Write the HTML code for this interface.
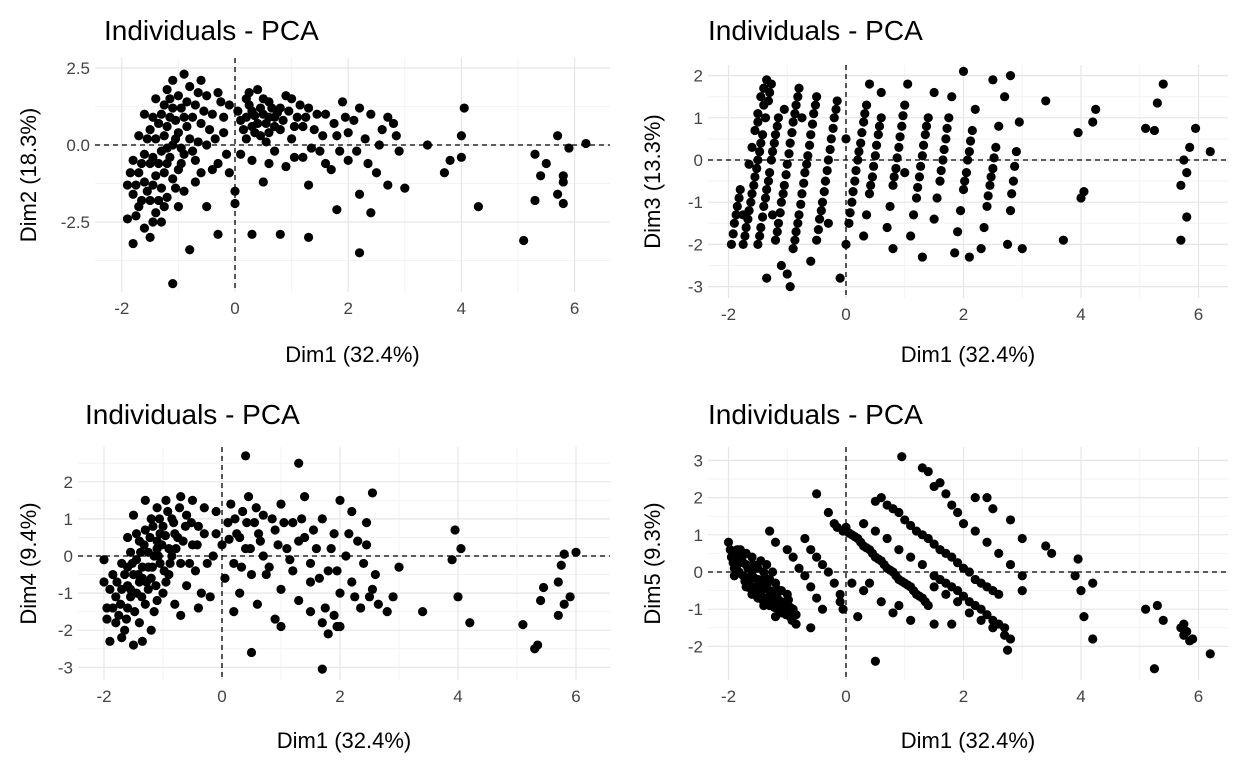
<!DOCTYPE html>
<html><head><meta charset="utf-8">
<style>
html,body{margin:0;padding:0;background:#fff;}
svg{display:block;font-family:"Liberation Sans",Arial,sans-serif;}
</style></head>
<body>
<svg id="chart" width="1248" height="768" viewBox="0 0 1248 768" xmlns="http://www.w3.org/2000/svg"></svg>
<script>
const dim1Ticks = [-2, 0, 2, 4, 6];
const p1YTicks = [2.5, 0, -2.5];
const p1YLabels = ["2.5", "0.0", "-2.5"];
const p2YTicks = [2, 1, 0, -1, -2, -3];
const p3YTicks = [2, 1, 0, -1, -2, -3];
const p4YTicks = [3, 2, 1, 0, -1, -2];

const pts12 = [[-1.9,-1.3],[-1.9,-2.4],[-1.8,-3.2],[-1.8,-1.6],[-1.7,-0.9],[-1.7,-2.0],[-1.6,-0.3],[-1.6,-1.2],[-1.6,-2.7],[-1.5,0.5],[-1.5,-0.6],[-1.5,-1.8],[-1.5,-3.0],[-1.4,1.5],[-1.4,0.2],[-1.4,-1.0],[-1.4,-2.2],[-1.3,1.0],[-1.3,-0.2],[-1.3,-1.4],[-1.3,-2.5],[-1.2,1.8],[-1.2,0.6],[-1.2,-0.6],[-1.2,-1.7],[-1.1,2.1],[-1.1,1.2],[-1.1,0.0],[-1.1,-1.1],[-1.1,-4.5],[-1.0,1.6],[-1.0,0.4],[-1.0,-0.8],[-1.0,-2.0],[-0.9,2.3],[-0.9,0.9],[-0.9,-0.3],[-0.9,-1.5],[-0.8,1.9],[-0.8,0.2],[-0.8,-3.4],[-0.7,1.3],[-0.7,-0.5],[-0.7,-1.2],[-0.6,2.1],[-0.6,0.7],[-0.6,-0.9],[-0.5,1.6],[-0.5,0.0],[-0.5,-2.0],[-1.7,0.3],[-1.6,1.0],[-1.8,-0.5],[-1.2,-0.1],[-1.35,0.7],[-1.45,-0.4],[-1.25,-0.9],[-1.05,0.8],[-0.95,-0.1],[-1.15,1.5],[-0.4,1.0],[-0.3,-0.6],[-0.3,1.7],[-0.2,0.4],[-0.1,-0.9],[-0.1,1.3],[0.0,-1.9],[0.1,0.8],[0.1,-0.3],[0.2,1.5],[0.2,0.2],[0.3,1.1],[0.3,-0.5],[0.4,0.7],[0.4,1.8],[0.5,1.0],[0.5,-1.2],[0.6,0.4],[0.6,1.4],[0.7,0.9],[0.7,-0.2],[0.8,1.2],[0.8,0.5],[0.9,-0.7],[1.0,1.5],[1.0,0.2],[1.1,0.9],[1.2,-0.4],[1.3,1.2],[1.3,-1.3],[1.4,0.5],[1.5,-0.2],[1.6,1.0],[1.7,-0.8],[1.8,0.3],[1.9,1.4],[2.0,-0.5],[2.1,0.8],[2.2,-1.6],[2.3,0.2],[2.4,1.0],[2.5,-0.9],[2.6,0.5],[2.7,-1.3],[2.8,0.7],[2.9,-0.2],[3.0,-1.4],[0.3,-2.9],[0.8,-2.9],[1.3,-3.0],[2.2,-3.5],[2.4,-2.2],[1.8,-2.1],[-0.3,-2.9],[0.0,-1.5],[0.9,1.6],[0.6,0.9],[0.2,0.9],[0.45,0.3],[1.6,-0.6],[2.0,0.4],[2.2,1.2],[2.7,0.9],[3.4,0.0],[3.7,-0.9],[3.8,-0.5],[0.35,0.95],[0.55,0.7],[0.75,1.05],[0.25,1.3],[-0.2,0.9],[1.2,0.6],
[-1.85,-0.9],[-1.75,-1.3],[-1.65,-0.6],[-1.55,-1.5],[-1.55,0.2],[-1.45,-1.3],[-1.45,0.9],[-1.35,-0.6],[-1.35,-1.8],[-1.25,0.3],[-1.25,1.3],[-1.15,-0.4],[-1.15,0.9],[-1.05,-1.4],[-1.05,0.2],[-0.95,1.2],[-0.95,-0.6],[-0.85,0.6],[-0.85,1.4],[-0.75,-0.2],[-0.75,0.9],[-0.65,1.7],[-0.65,0.1],[-0.55,1.1],[-0.45,0.5],[-0.4,-0.8],[-0.35,0.2],[-1.65,-1.8],[-1.75,-2.3],[-1.45,-2.5],[-1.25,-2.0],[-0.25,1.4],[-0.15,-0.3],[0.05,1.1],[0.15,0.5],[0.25,1.7],[0.35,0.4],[0.45,1.2],[0.5,1.5],[0.55,0.1],[0.65,1.2],[0.7,0.6],[0.85,0.8],[0.95,1.1],[1.05,0.6],[1.15,1.3],[1.25,0.9],[1.35,-0.1],[1.45,1.0],[1.55,0.3],[1.75,0.7],[1.85,-0.2],[1.95,0.9],[2.15,-0.2],[2.35,-0.6],[2.55,0.0],[2.85,0.3],[1.05,-0.4],[0.3,0.6],[0.6,-0.6],
[4.0,0.3],[4.0,-0.4],[4.05,1.2],[4.3,-2.0],[5.1,-3.1],[5.3,-1.8],[5.3,-0.3],[5.4,-1.0],[5.5,-0.6],[5.7,0.3],[5.7,-1.6],[5.8,-1.0],[5.8,-1.9],[5.9,-0.1],[6.2,0.05],[5.8,-1.2]];

const pts13 = [[-1.95,-2.0],[-1.9,-1.5],[-1.85,-1.1],[-1.8,-0.7],[-1.75,-2.0],[-1.7,-1.6],[-1.65,-1.2],[-1.6,-0.8],[-1.55,-0.4],[-1.5,0.0],[-1.45,0.4],[-1.5,-2.0],[-1.45,-1.6],[-1.4,-1.1],[-1.35,-0.7],[-1.3,-0.3],[-1.25,0.2],[-1.2,0.6],[-1.15,1.0],[-1.6,0.3],[-1.55,0.7],[-1.5,1.1],[-1.45,1.5],[-1.4,1.7],[-1.35,1.9],[-1.4,1.3],[-1.5,0.9],[-1.2,-1.9],[-1.15,-1.5],[-1.1,-1.0],[-1.05,-0.6],[-1.0,-0.1],[-0.95,0.4],[-0.9,0.9],[-0.85,1.3],[-0.8,1.7],[-1.35,-2.8],[-1.1,-2.5],[-0.95,-3.0],[-1.0,-2.7],[-0.9,-2.1],[-0.85,-1.7],[-0.8,-1.3],[-0.75,-0.8],[-0.7,-0.3],[-0.65,0.1],[-0.6,0.6],[-0.55,1.1],[-0.5,1.5],[-0.6,-2.4],[-0.5,-1.9],[-0.45,-1.4],[-0.4,-1.0],[-0.35,-0.5],[-0.3,0.0],[-0.25,0.5],[-0.2,1.0],[-0.15,1.4],[-0.1,-2.8],[0.0,-2.0],[0.05,-1.5],[0.1,-1.0],[0.15,-0.5],[0.2,0.0],[0.25,0.4],[0.3,0.9],[0.35,1.3],[0.4,1.8],[0.3,-1.8],[0.35,-1.3],[0.4,-0.8],[0.45,-0.4],[0.5,0.1],[0.55,0.6],[0.6,1.0],[0.7,-1.6],[0.75,-1.1],[0.8,-0.6],[0.85,-0.2],[0.9,0.3],[0.95,0.8],[1.0,1.3],[1.05,1.8],[1.1,-1.8],[1.15,-1.3],[1.2,-0.9],[1.25,-0.4],[1.3,0.1],[1.35,0.6],[1.4,1.0],[1.5,-1.4],[1.55,-0.9],[1.6,-0.5],[1.65,0.0],[1.7,0.5],[1.75,1.0],[1.8,1.5],[1.85,-2.2],[1.9,-1.7],[1.95,-1.2],[2.0,-0.7],[2.05,-0.3],[2.1,0.2],[2.15,0.7],[2.2,1.2],[2.3,-2.1],[2.35,-1.6],[2.4,-1.1],[2.45,-0.6],[2.5,-0.2],[2.55,0.3],[2.6,0.8],[2.7,1.5],[2.75,-2.0],[2.8,-1.2],[2.85,-0.5],[2.9,0.2],[2.95,0.9],[2.0,2.1],[2.5,1.9],[2.8,2.0],[3.0,-2.1],[3.4,1.4],[2.1,-2.3],[1.3,-2.3],[0.8,-2.1],[-0.3,-1.5],[1.0,-0.3],[0.0,0.5],[0.6,1.6],[1.5,1.6],[-1.65,-0.1],[-1.3,1.6],[-1.05,1.2],[-0.75,1.0],[-1.75,-1.3],[-1.25,-1.3],
[-1.92,-1.75],[-1.87,-1.3],[-1.82,-0.9],[-1.72,-1.8],[-1.67,-1.4],[-1.62,-1.0],[-1.57,-0.6],[-1.52,-0.2],[-1.47,0.2],[-1.42,0.6],[-1.47,-1.8],[-1.42,-1.35],[-1.37,-0.9],[-1.32,-0.5],[-1.27,0.0],[-1.22,0.4],[-1.17,0.8],[-1.37,1.0],[-1.32,1.4],[-1.27,1.8],[-1.17,-1.7],[-1.12,-1.25],[-1.07,-0.8],[-1.02,-0.35],[-0.97,0.15],[-0.92,0.65],[-0.87,1.1],[-0.82,1.5],[-0.87,-1.9],[-0.82,-1.5],[-0.77,-1.05],[-0.72,-0.55],[-0.67,-0.1],[-0.62,0.35],[-0.57,0.85],[-0.52,1.3],[-0.47,-1.65],[-0.42,-1.2],[-0.37,-0.75],[-0.32,-0.25],[-0.27,0.25],[-0.22,0.75],[-0.17,1.2],[0.07,-1.25],[0.12,-0.75],[0.17,-0.25],[0.22,0.2],[0.27,0.65],[0.32,1.1],[0.42,-0.6],[0.47,-0.15],[0.52,0.35],[0.57,0.8],[0.82,-0.4],[0.87,0.05],[0.92,0.55],[0.97,1.05],[1.22,-0.65],[1.27,-0.15],[1.32,0.35],[1.37,0.8],[1.62,-0.25],[1.67,0.25],[1.72,0.75],[2.02,-0.5],[2.07,0.0],[2.12,0.45],[2.42,-0.85],[2.47,-0.4],[2.52,0.05],[2.82,-0.8],[2.87,-0.15],
[3.7,-1.9],[3.95,0.65],[4.0,-0.9],[4.05,-0.75],[4.2,0.9],[4.25,1.2],[5.1,0.75],[5.25,0.7],[5.3,1.35],[5.4,1.8],[5.7,-0.6],[5.7,-1.9],[5.75,0.0],[5.8,-1.35],[5.85,0.3],[5.95,0.75],[6.2,0.2],[5.8,-0.3]];

const pts14 = [[-2.0,-0.1],[-2.0,-0.7],[-1.95,-1.4],[-1.95,-1.7],[-1.9,-2.3],[-1.85,-0.5],[-1.8,-1.1],[-1.75,-1.6],[-1.7,-0.2],[-1.65,-2.0],[-1.6,-0.8],[-1.6,-1.4],[-1.55,0.1],[-1.5,-0.5],[-1.5,-2.4],[-1.45,-1.0],[-1.4,0.4],[-1.4,-1.8],[-1.35,-0.3],[-1.3,0.7],[-1.3,-1.3],[-1.25,0.1],[-1.2,-0.6],[-1.2,1.0],[-1.15,-1.5],[-1.1,0.4],[-1.1,1.3],[-1.05,-0.2],[-1.0,0.8],[-1.0,-1.0],[-0.95,1.5],[-0.9,0.2],[-0.9,-0.5],[-0.85,1.0],[-0.8,-1.3],[-0.75,0.5],[-0.7,1.6],[-0.7,-0.2],[-0.6,1.1],[-0.6,-0.8],[-0.5,0.3],[-0.5,1.5],[-0.45,-0.4],[-0.4,0.8],[-0.35,-1.0],[-0.3,1.3],[-1.6,0.5],[-1.5,1.1],[-1.3,1.5],[-1.25,-0.9],[-1.35,-0.6],[-1.45,-0.1],[-1.15,0.0],[-1.05,0.6],[-0.95,-0.7],[-1.7,-0.9],[-1.2,-2.0],[-1.35,-2.3],[-0.7,-1.6],[-0.4,-1.4],[-0.2,-1.1],[-0.15,0.0],[-0.1,0.6],[-0.1,1.2],[-1.55,-1.1],[-1.25,-0.3],[-1.1,0.2],[-0.8,0.6],[-1.4,-0.7],[-0.85,0.0],
[-1.85,-1.4],[-1.78,-0.7],[-1.72,-1.3],[-1.65,-0.5],[-1.62,-1.7],[-1.55,-0.9],[-1.52,-0.2],[-1.48,-1.5],[-1.42,-0.5],[-1.38,0.1],[-1.36,-1.1],[-1.32,0.3],[-1.28,-0.7],[-1.22,0.5],[-1.18,-0.3],[-1.17,0.8],[-1.12,-0.8],[-1.08,0.0],[-1.06,1.0],[-1.02,0.3],[-0.98,-0.4],[-0.96,0.55],[-0.92,1.2],[-0.88,-0.2],[-0.82,0.9],[-0.78,0.2],[-0.72,1.3],[-0.66,0.4],[-0.62,0.8],[-0.55,-0.2],[-0.52,0.9],[-0.42,0.3],[-0.3,0.6],[-0.25,-0.2],[-1.45,0.6],[-1.6,-0.3],[-1.9,-0.9],[-1.8,-1.8],[-1.7,-2.2],[-1.1,-1.2],[0.12,0.45],[0.22,1.0],[0.33,-0.3],[0.42,0.9],[0.48,0.2],[0.58,1.3],[0.62,0.6],[0.75,-0.5],[0.85,1.0],[0.95,0.3],[1.05,0.9],[1.15,-0.1],[1.3,0.4],[1.35,1.0],[1.55,0.7],[1.65,-0.6],[1.85,0.2],[1.95,-0.4],[2.15,0.6],[2.25,-1.1],[2.45,0.3],[2.55,-0.9],[2.65,-1.3],[1.75,-1.4],[1.9,-1.6],[1.95,-1.9],
[0.0,0.3],[0.05,-0.6],[0.1,0.9],[0.15,1.4],[0.2,-0.2],[0.25,0.6],[0.3,-1.0],[0.35,1.2],[0.4,0.2],[0.45,1.6],[0.5,-0.5],[0.55,0.9],[0.6,-1.3],[0.65,0.4],[0.7,1.1],[0.8,-0.3],[0.9,0.7],[1.0,-0.9],[1.0,1.4],[1.1,0.2],[1.2,-0.4],[1.2,0.9],[1.3,-1.2],[1.4,0.5],[1.4,1.6],[1.5,-0.7],[1.5,-1.5],[1.6,0.2],[1.7,1.0],[1.7,-1.8],[1.8,-0.4],[1.8,-2.1],[1.9,0.6],[2.0,-1.0],[2.0,1.5],[2.1,0.0],[2.2,-0.7],[2.2,1.2],[2.3,0.4],[2.35,-1.4],[2.4,-0.2],[2.45,0.9],[2.5,-1.1],[2.55,1.7],[2.6,-0.5],[2.8,-1.5],[2.9,-1.1],[3.0,-0.3],[3.4,-1.5],[0.5,-2.6],[0.4,2.7],[0.9,-1.7],[1.3,2.5],[1.7,-3.05],[2.0,-1.9],[1.0,-1.9],[0.2,-1.5],[1.5,-0.2],[0.7,0.0],[0.3,0.5],[3.9,-0.1],[3.95,0.7],[4.0,-1.1],[4.05,0.2],[4.2,-1.8],[5.1,-1.85],[5.3,-2.5],[5.35,-2.4],[5.4,-1.2],[5.45,-0.85],[5.7,-0.7],[5.7,-1.6],[5.75,-0.25],[5.8,-1.3],[5.9,-1.1],[6.0,0.1],[5.8,0.05]];

const pts15 = [[-2.0,0.8],[-1.95,0.4],[-1.9,0.1],[-1.85,0.6],[-1.8,0.3],[-1.75,-0.1],[-1.7,0.2],[-1.65,-0.3],[-1.6,0.0],[-1.55,-0.4],[-1.5,-0.2],[-1.45,-0.6],[-1.4,-0.3],[-1.35,-0.7],[-1.3,-0.5],[-1.25,-0.9],[-1.2,-0.6],[-1.15,-1.0],[-1.1,-0.8],[-1.05,-1.1],[-1.0,-0.9],[-0.95,-1.2],[-0.9,-1.0],[-0.85,-1.4],[-1.8,0.6],[-1.7,0.5],[-1.6,0.4],[-1.5,0.1],[-1.4,0.0],[-1.3,-0.2],[-1.2,-0.3],[-1.1,-0.5],[-1.0,-0.6],[-1.9,-0.1],[-1.7,-0.4],[-1.5,-0.7],[-1.3,-0.9],[-1.1,-1.1],[-1.6,-0.6],[-1.4,-0.9],[-1.2,-1.2],[-1.25,0.0],[-1.35,0.2],[-1.45,0.3],[-1.3,1.1],[-1.2,0.8],[-1.0,0.6],[-0.9,0.4],[-0.8,0.1],[-0.7,-0.1],[-0.6,-0.4],[-0.5,-0.7],[-0.4,-1.0],[-0.7,0.9],[-0.6,0.6],[-0.5,0.4],[-0.4,0.2],[-0.3,0.0],[-0.2,-0.3],[-0.1,-0.6],[-0.5,2.1],[-0.3,1.6],[-0.2,1.3],[-0.1,-0.8],[-0.6,-1.5],[-0.05,-1.0],[0.0,1.2],[0.1,1.0],[0.2,0.9],[0.3,0.7],[0.4,0.6],[0.5,0.4],[0.6,0.3],[0.7,0.1],[0.8,0.0],[0.9,-0.2],[1.0,-0.3],[1.1,-0.4],[1.2,-0.6],[1.3,-0.7],[1.4,-0.9],[0.3,1.3],[0.5,1.1],[0.7,0.9],[0.9,0.6],[1.1,0.4],[1.3,0.2],[1.5,-0.1],[1.7,-0.3],[1.9,-0.5],[2.1,-0.8],[2.3,-1.0],[2.5,-1.3],[2.7,-1.5],[2.8,-1.8],[1.5,-0.4],[1.7,-0.6],[1.9,-0.8],[2.1,-1.1],[2.3,-1.3],[2.5,-1.5],[2.7,-1.7],[2.75,-2.1],[0.5,1.9],[0.6,2.0],[0.7,1.8],[0.9,1.6],[1.0,1.4],[1.2,1.1],[1.4,0.9],[1.6,0.6],[1.8,0.4],[2.0,0.1],[2.2,-0.2],[2.4,-0.4],[2.6,-0.6],[0.95,3.1],[1.3,2.8],[1.4,2.7],[1.5,2.3],[1.6,2.4],[1.7,2.1],[1.8,1.8],[1.9,1.6],[2.0,1.3],[2.2,1.1],[2.4,0.8],[2.6,0.5],[2.8,0.2],[3.0,-0.1],[2.2,2.0],[2.5,1.7],[2.8,1.4],[3.0,0.9],[3.4,0.7],[3.5,0.5],[3.0,-0.5],[2.4,2.0],[0.5,-2.4],[0.3,-0.5],[0.1,-0.3],[0.2,-1.2],[0.6,-0.8],[0.9,-0.9],[1.1,-1.3],[1.5,-1.4],[1.8,-1.4],[0.8,-1.1],[0.4,-0.3],[-1.55,0.15],[-1.35,-0.35],[-1.15,-0.75],[-0.95,-0.95],[-1.75,0.25],
[-1.97,0.6],[-1.92,0.25],[-1.87,0.45],[-1.82,0.0],[-1.77,0.4],[-1.72,-0.25],[-1.67,0.1],[-1.62,-0.45],[-1.57,-0.15],[-1.52,-0.55],[-1.47,-0.35],[-1.42,-0.75],[-1.37,-0.45],[-1.32,-0.8],[-1.27,-0.6],[-1.22,-0.95],[-1.17,-0.7],[-1.12,-1.0],[-1.07,-0.95],[-1.02,-1.15],[-0.97,-1.05],[-0.92,-1.3],[-1.85,0.2],[-1.65,-0.15],[-1.45,-0.45],[-1.25,-0.75],[-1.05,-1.0],[-0.85,-1.15],[-1.58,0.2],[-1.38,-0.15],[-1.18,-0.45],[-0.98,-0.75],[-0.15,1.2],[-0.05,1.1],[0.05,1.05],[0.15,0.95],[0.25,0.8],[0.35,0.65],[0.45,0.5],[0.55,0.35],[0.65,0.2],[0.75,0.05],[0.85,-0.1],[0.95,-0.25],[1.05,-0.35],[1.15,-0.5],[1.25,-0.65],[1.35,-0.8],[0.8,1.7],[1.1,1.25],[1.3,1.0],[1.5,0.75],[1.7,0.5],[1.9,0.25],[2.1,0.0],[2.3,-0.3],[2.5,-0.5],[1.6,-0.2],[1.8,-0.4],[2.0,-0.65],[2.2,-0.9],[2.4,-1.15],[2.6,-1.4],
[3.9,-0.1],[3.95,0.35],[4.0,-0.5],[4.05,-1.2],[4.2,-1.8],[4.2,-0.3],[5.1,-1.0],[5.25,-2.6],[5.3,-0.9],[5.4,-1.3],[5.7,-1.5],[5.75,-1.7],[5.8,-1.6],[5.85,-1.85],[5.9,-1.8],[6.2,-2.2],[5.75,-1.4]];

const NS = "http://www.w3.org/2000/svg";
const svg = document.getElementById("chart");
function mk(tag, attrs, parent){
  const e = document.createElementNS(NS, tag);
  for (const k in attrs) e.setAttribute(k, attrs[k]);
  (parent||svg).appendChild(e);
  return e;
}

const panels = [
  {id:"dim1-dim2", pts:pts12, left:95, right:610, top:58, bottom:292, x0:235, xu:56.6, y0:145, yu:30.8, yTicks:p1YTicks, yLabels:p1YLabels, minorY:[3.75,1.25,-1.25,-3.75], title:"Individuals - PCA", titleX:104, titleY:40, ylab:"Dim2 (18.3%)", xlabY:362, ylabX:36},
  {id:"dim1-dim3", pts:pts13, left:708, right:1228, top:65, bottom:298, x0:846, xu:58.75, y0:160, yu:42.2, yTicks:p2YTicks, yLabels:p2YTicks.map(String), minorY:[1.5,0.5,-0.5,-1.5,-2.5], title:"Individuals - PCA", titleX:708, titleY:40, ylab:"Dim3 (13.3%)", xlabY:362, ylabX:660},
  {id:"dim1-dim4", pts:pts14, left:78, right:610, top:447, bottom:680, x0:222, xu:59, y0:556, yu:37.1, yTicks:p3YTicks, yLabels:p3YTicks.map(String), minorY:[2.5,1.5,0.5,-0.5,-1.5,-2.5], title:"Individuals - PCA", titleX:85, titleY:424, ylab:"Dim4 (9.4%)", xlabY:748, ylabX:36},
  {id:"dim1-dim5", pts:pts15, left:708, right:1228, top:447, bottom:680, x0:846, xu:58.75, y0:572, yu:37.2, yTicks:p4YTicks, yLabels:p4YTicks.map(String), minorY:[2.5,1.5,0.5,-0.5,-1.5], title:"Individuals - PCA", titleX:708, titleY:424, ylab:"Dim5 (9.3%)", xlabY:748, ylabX:660}
];

panels.forEach(p => {
  const sx = v => p.x0 + v*p.xu;
  const sy = v => p.y0 - v*p.yu;
  const g = mk("g", {});
  
  
  [-3,-1,1,3,5].forEach(v => { const x = sx(v); if (x>p.left && x<p.right) mk("line",{x1:x,x2:x,y1:p.top,y2:p.bottom,stroke:"#f3f3f3","stroke-width":1},g); });
  p.minorY.forEach(v => { const y = sy(v); if (y>p.top && y<p.bottom) mk("line",{x1:p.left,x2:p.right,y1:y,y2:y,stroke:"#f3f3f3","stroke-width":1},g); });
  dim1Ticks.forEach(v => {
    const x = sx(v);
    mk("line",{x1:x,x2:x,y1:p.top,y2:p.bottom,stroke:"#e6e6e6","stroke-width":1.2},g);
    const t = mk("text",{x:x,y:p.bottom+22,"text-anchor":"middle","font-size":17,fill:"#444"},g);
    t.textContent = String(v);
    
    
  });
  p.yTicks.forEach((v,i) => {
    const y = sy(v);
    mk("line",{x1:p.left,x2:p.right,y1:y,y2:y,stroke:"#e6e6e6","stroke-width":1.2},g);
    const t = mk("text",{x:p.left-5,y:y+6,"text-anchor":"end","font-size":17,fill:"#444"},g);
    t.textContent = p.yLabels[i];
    
    
  });
  const zx = mk("line",{x1:sx(0),x2:sx(0),y1:p.top,y2:p.bottom,stroke:"#000","stroke-width":1.3,"stroke-dasharray":"5,4"},g);
  
  
  const zy = mk("line",{x1:p.left,x2:p.right,y1:sy(0),y2:sy(0),stroke:"#000","stroke-width":1.3,"stroke-dasharray":"5,4"},g);
  
  
  p.pts.forEach(d => {
    const c = mk("circle",{cx:sx(d[0]),cy:sy(d[1]),r:4.6,fill:"#000"},g);
    
    
  });
  const tt = mk("text",{x:p.titleX,y:p.titleY,"font-size":28,fill:"#000"},g);
  tt.textContent = p.title;
  
  
  const xt = mk("text",{x:(p.left+p.right)/2,y:p.xlabY,"text-anchor":"middle","font-size":22,fill:"#000"},g);
  xt.textContent = "Dim1 (32.4%)";
  
  
  const cy = (p.top+p.bottom)/2;
  const yt = mk("text",{x:p.ylabX,y:cy,"text-anchor":"middle","font-size":22,fill:"#000",transform:`rotate(-90 ${p.ylabX} ${cy})`},g);
  yt.textContent = p.ylab;
  
  
});
</script>
</body></html>
